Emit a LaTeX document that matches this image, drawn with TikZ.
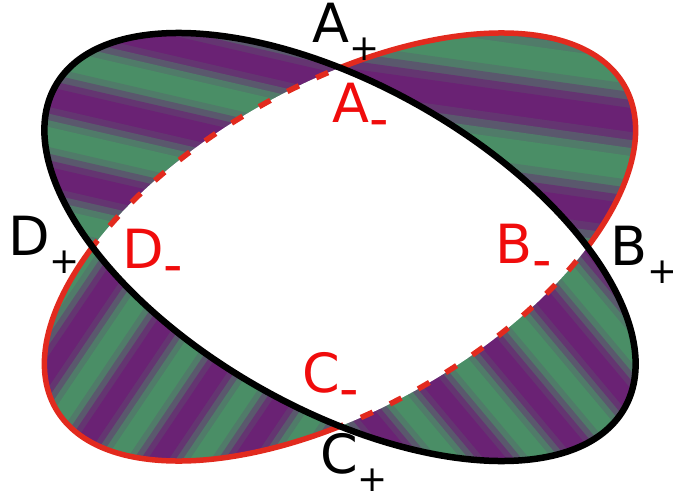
\documentclass[tikz,border=0pt]{standalone}
\usepackage{fontspec}
\setmainfont{DejaVu Sans}
\usepackage{xcolor}
\usepackage{tikz}

\definecolor{verdebanda}{RGB}{74,142,102}
\definecolor{violabanda}{RGB}{106,34,116}
\definecolor{rossobordo}{RGB}{226,42,30}
\definecolor{rossotesto}{RGB}{240,12,12}

% contorni: due ellissi speculari (coordinate in pixel, y verso il basso)
\newcommand{\bordonero}{{[rotate around={-29.5:(340,247)}] (340,247) ellipse [x radius=327, y radius=162]}}
\newcommand{\bordorosso}{{[rotate around={29.5:(340,247)}] (340,247) ellipse [x radius=327, y radius=162]}}

% bande sfumate verde/viola: centro x, centro y, angolo, periodo, fase
\newcommand{\bande}[5]{%
  \begin{scope}[shift={(#1,#2)}, rotate=#3]
    \foreach \k in {-70,...,70} {
      \pgfmathsetmacro{\mix}{50+50*max(-1,min(1,1.3*cos(\k*30+#5)))}
      \fill[violabanda!\mix!verdebanda] (-420,{(\k-0.5)*#4/12-0.4}) rectangle (420,{(\k+0.5)*#4/12+0.4});
    }
  \end{scope}}

\newcommand{\piu}{\raisebox{-18pt}{\fontsize{36}{36}\selectfont +}}
\newcommand{\meno}{\raisebox{-15pt}{-}}

\begin{document}
\begin{tikzpicture}[
      x=1pt, y=-1pt,
      lblnero/.style={font=\fontsize{54}{60}\selectfont, inner sep=0pt, anchor=base west},
      lblrosso/.style={lblnero, text=rossotesto},
      lineanera/.style={line width=6.5pt, black},
      linearossa/.style={line width=5.5pt, rossobordo},
      tratteggiorosso/.style={line width=5.5pt, rossobordo, dash pattern=on 13pt off 19pt}
    ]
    \useasboundingbox (0,0) rectangle (673,498);

    % Lobi colorati
    \begin{scope}
      \clip (0,0) rectangle (340,498);
      \clip \bordonero;
      \bande{190}{130}{-13}{78}{0}
    \end{scope}
    \begin{scope}
      \clip (340,0) rectangle (673,498);
      \clip \bordorosso;
      \bande{500}{150}{-8}{95}{180}
    \end{scope}
    \begin{scope}
      \clip (0,0) rectangle (340,498);
      \clip \bordorosso;
      \bande{170}{380}{56}{70}{180}
    \end{scope}
    \begin{scope}
      \clip (340,0) rectangle (673,498);
      \clip \bordonero;
      \bande{520}{380}{-50}{70}{0}
    \end{scope}

    % Intersezione bianca
    \begin{scope}
      \clip \bordonero;
      \fill[white] \bordorosso;
    \end{scope}

    % Bordo rosso: pieno fuori, tratteggiato dentro
    \begin{scope}[even odd rule]
      \clip (-20,-20) rectangle (700,520) \bordonero;
      \draw[linearossa] \bordorosso;
    \end{scope}
    \begin{scope}
      \clip \bordonero;
      \draw[tratteggiorosso] \bordorosso;
    \end{scope}

    % Bordo nero
    \draw[lineanera] \bordonero;

    % Etichette
    \node[lblnero] (Apiu) at (312,42) {A\piu};
    \node[lblrosso] (Ameno) at (332,122) {A\meno};
    \node[lblnero] (Dpiu) at (8,255) {D\piu};
    \node[lblrosso] (Dmeno) at (122,268) {D\meno};
    \node[lblrosso] (Bmeno) at (495,263) {B\meno};
    \node[lblnero] (Bpiu) at (610,265) {B\piu};
    \node[lblrosso] (Cmeno) at (302,392) {C\meno};
    \node[lblnero] (Cpiu) at (320,473) {C\piu};
  \end{tikzpicture}
\end{document}
